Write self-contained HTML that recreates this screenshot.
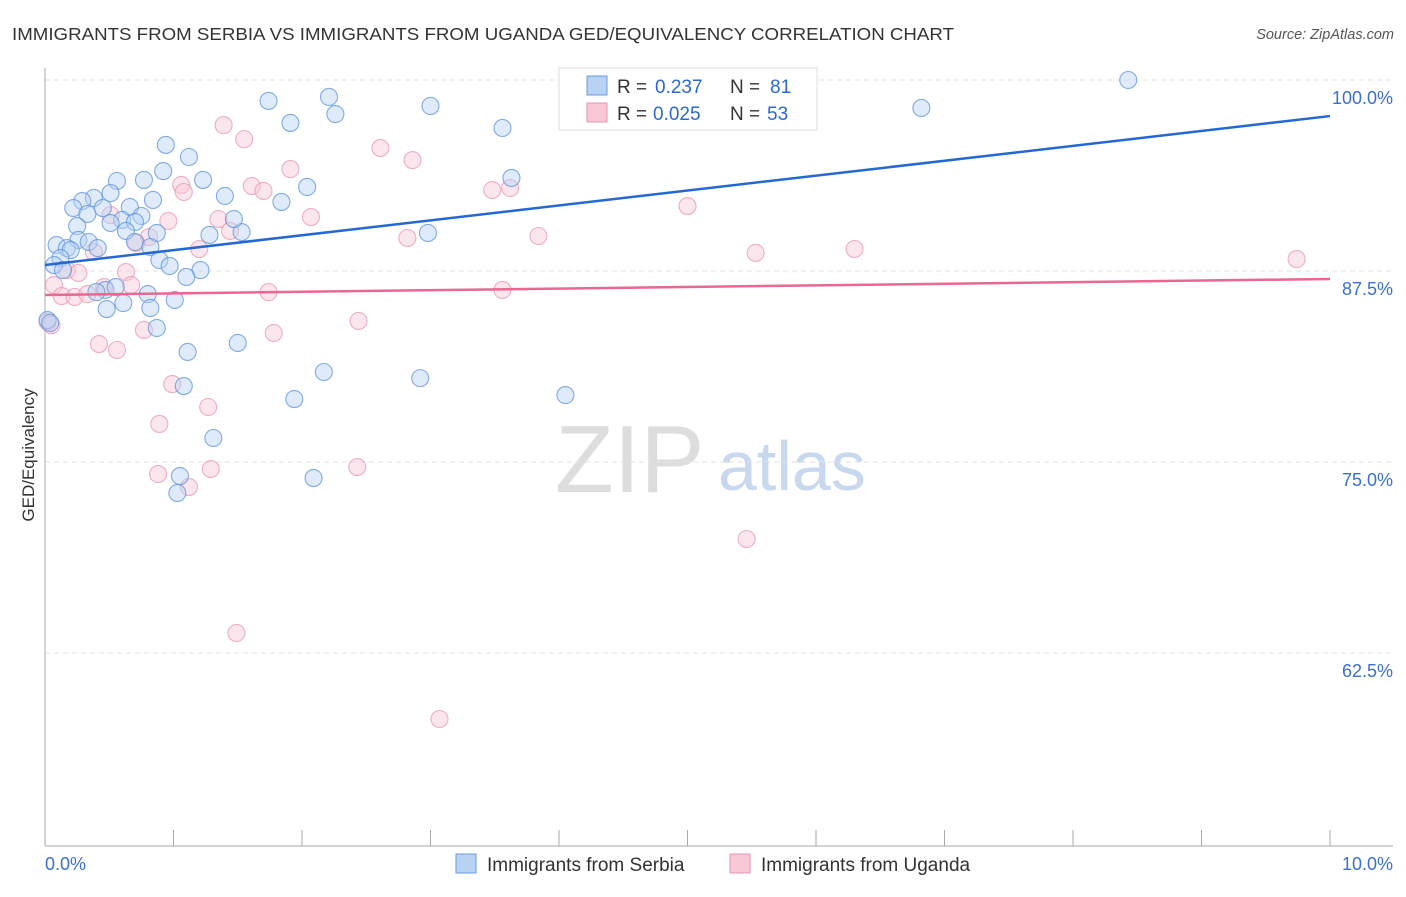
<!DOCTYPE html>
<html><head><meta charset="utf-8"><style>
body{margin:0;background:#fff;font-family:"Liberation Sans",sans-serif}
svg text{font-family:"Liberation Sans",sans-serif}
</style></head><body>
<svg id="c" width="1406" height="892" xmlns="http://www.w3.org/2000/svg">
<text x="12" y="40" font-size="17.5" fill="#333" textLength="942" lengthAdjust="spacingAndGlyphs">IMMIGRANTS FROM SERBIA VS IMMIGRANTS FROM UGANDA GED/EQUIVALENCY CORRELATION CHART</text>
<text x="1394" y="39" font-size="14.5" fill="#555" font-style="italic" text-anchor="end">Source: ZipAtlas.com</text>
<text x="555" y="492" font-size="96" fill="#ddd" font-family="Liberation Serif">ZIP</text>
<text x="718" y="490" font-size="70" fill="#c8d8ee">atlas</text>
<text transform="translate(34,455) rotate(-90)" font-size="17" fill="#333" text-anchor="middle">GED/Equivalency</text>
<g id="grid"></g><g id="axes"></g><g id="pts"></g><g id="trend"></g>
<g>
<rect x="559" y="68" width="258" height="62" fill="#fff" stroke="#ddd"/>
<rect x="587" y="76" width="20" height="19" fill="#b8d2f4" stroke="#6a9ae0"/>
<rect x="587" y="103" width="20" height="19" fill="#f8c8d6" stroke="#e895b0"/>
<text x="617" y="93" font-size="19" fill="#333">R =</text><text x="655" y="93" font-size="19" fill="#2b6ad0">0.237</text>
<text x="730" y="93" font-size="19" fill="#333">N =</text><text x="770" y="93" font-size="19" fill="#2b6ad0">81</text>
<text x="617" y="120" font-size="19" fill="#333">R =</text><text x="653" y="120" font-size="19" fill="#2b6ad0">0.025</text>
<text x="730" y="120" font-size="19" fill="#333">N =</text><text x="767" y="120" font-size="19" fill="#2b6ad0">53</text>
</g>
<g>
<rect x="456" y="854" width="20" height="19" fill="#b8d2f4" stroke="#6a9ae0"/>
<text x="487" y="871" font-size="19" fill="#333">Immigrants from Serbia</text>
<rect x="730" y="854" width="20" height="19" fill="#f8c8d6" stroke="#e895b0"/>
<text x="761" y="871" font-size="19" fill="#333">Immigrants from Uganda</text>
</g>
</svg>
<script>
const yTicks=[100,87.5,75,62.5];
const yTickLabels=["100.0%","87.5%","75.0%","62.5%"];
const xTickLabels=["0.0%","10.0%"];
const serbiaX=[8.43,1.74,2.21,3.00,6.82,1.91,2.26,3.56,0.94,1.12,0.92,0.56,0.77,1.23,2.04,3.63,0.51,0.38,0.29,0.84,1.40,0.22,0.33,0.66,1.84,0.45,0.75,0.60,0.51,0.70,0.25,0.63,0.87,1.28,1.53,1.47,2.98,0.09,0.26,0.34,0.17,0.41,0.20,0.70,0.82,0.12,0.07,0.89,0.97,1.21,1.10,0.14,0.47,0.55,0.80,0.40,0.61,0.48,1.01,0.82,0.87,1.11,1.50,2.17,2.92,1.08,1.94,4.05,1.31,1.05,2.09,1.03,0.02,0.04];
const serbiaY=[100.0,98.63,98.89,98.30,98.17,97.19,97.77,96.86,95.75,94.96,94.04,93.39,93.46,93.46,93.00,93.59,92.60,92.28,92.08,92.15,92.41,91.62,91.23,91.69,92.02,91.62,91.10,90.84,90.64,90.71,90.44,90.12,89.99,89.86,90.05,90.90,89.99,89.20,89.53,89.40,89.00,89.00,88.87,89.40,89.07,88.35,87.89,88.22,87.83,87.56,87.11,87.56,86.26,86.45,85.99,86.12,85.40,85.01,85.60,85.08,83.77,82.20,82.79,80.89,80.49,79.97,79.12,79.38,76.57,74.08,73.95,72.97,84.29,84.10];
const ugandaX=[1.39,1.55,2.61,2.86,1.91,1.06,1.61,1.08,1.70,3.48,3.62,5.00,0.51,0.96,1.35,1.44,2.07,0.81,2.82,3.84,0.71,1.20,0.38,5.53,6.30,9.74,0.17,0.26,0.63,0.07,0.46,0.67,1.74,3.56,0.13,0.23,0.33,0.77,1.78,2.44,0.42,0.56,0.99,1.27,0.89,0.88,1.29,1.12,2.43,5.46,1.49,3.07,0.02,0.05];
const ugandaY=[97.05,96.13,95.55,94.76,94.17,93.13,93.06,92.67,92.74,92.80,92.93,91.75,91.16,90.77,90.90,90.12,91.03,89.72,89.66,89.79,89.33,88.94,88.74,88.68,88.94,88.28,87.56,87.37,87.43,86.58,86.45,86.58,86.12,86.26,85.86,85.80,85.99,83.64,83.44,84.23,82.72,82.33,80.10,78.60,77.49,74.21,74.54,73.36,74.67,69.96,63.81,58.18,84.16,83.96];
const trendX=[0,10];
const serbiaTrend=[87.89,97.64];
const ugandaTrend=[85.93,86.98];
const NS="http://www.w3.org/2000/svg";
const X=v=>45+v*128.5, Y=v=>80+(100-v)*15.28;
function mk(t,a,p){const e=document.createElementNS(NS,t);for(const k in a)e.setAttribute(k,a[k]);document.getElementById(p).appendChild(e);return e;}
yTicks.forEach((t,i)=>{
 const l=mk('line',{x1:45,x2:1393,y1:Y(t),y2:Y(t),stroke:'#e2e2e2','stroke-dasharray':'5,4'},'grid');
 
 
 const tx=mk('text',{x:1393,y:Y(t)+24,'font-size':18,fill:'#3b70d0','text-anchor':'end'},'grid');
 tx.textContent=yTickLabels[i];
 
 
});
const ya=mk('line',{x1:45,x2:45,y1:68,y2:846,stroke:'#aaa'},'axes');


const xa=mk('line',{x1:45,x2:1393,y1:846,y2:846,stroke:'#aaa'},'axes');


for(let i=0;i<=10;i++){const t=mk('line',{x1:X(i),x2:X(i),y1:830,y2:846,stroke:'#aaa'},'axes');
 
 }
[[0,'start'],[10,'end']].forEach((a,i)=>{const t=mk('text',{x:i?1393:45,y:870,'font-size':18,fill:'#3b70d0','text-anchor':a[1]},'axes');t.textContent=xTickLabels[i];
 
 });
function pts(xs,ys,f,s,name){xs.forEach((x,i)=>{const c=mk('circle',{cx:X(x),cy:Y(ys[i]),r:8.5,fill:f,'fill-opacity':0.45,stroke:s,'stroke-opacity':0.75,'stroke-width':1.1},'pts');
 
 });}
pts(ugandaX,ugandaY,'#f8c8d6','#e895b0','uganda-point');
pts(serbiaX,serbiaY,'#b8d2f4','#5a92dc','serbia-point');
const l1=mk('line',{x1:X(trendX[0]),y1:Y(serbiaTrend[0]),x2:X(trendX[1]),y2:Y(serbiaTrend[1]),stroke:'#2468d4','stroke-width':2.5},'trend');


const l2=mk('line',{x1:X(trendX[0]),y1:Y(ugandaTrend[0]),x2:X(trendX[1]),y2:Y(ugandaTrend[1]),stroke:'#e86890','stroke-width':2.5},'trend');


</script>
</body></html>
